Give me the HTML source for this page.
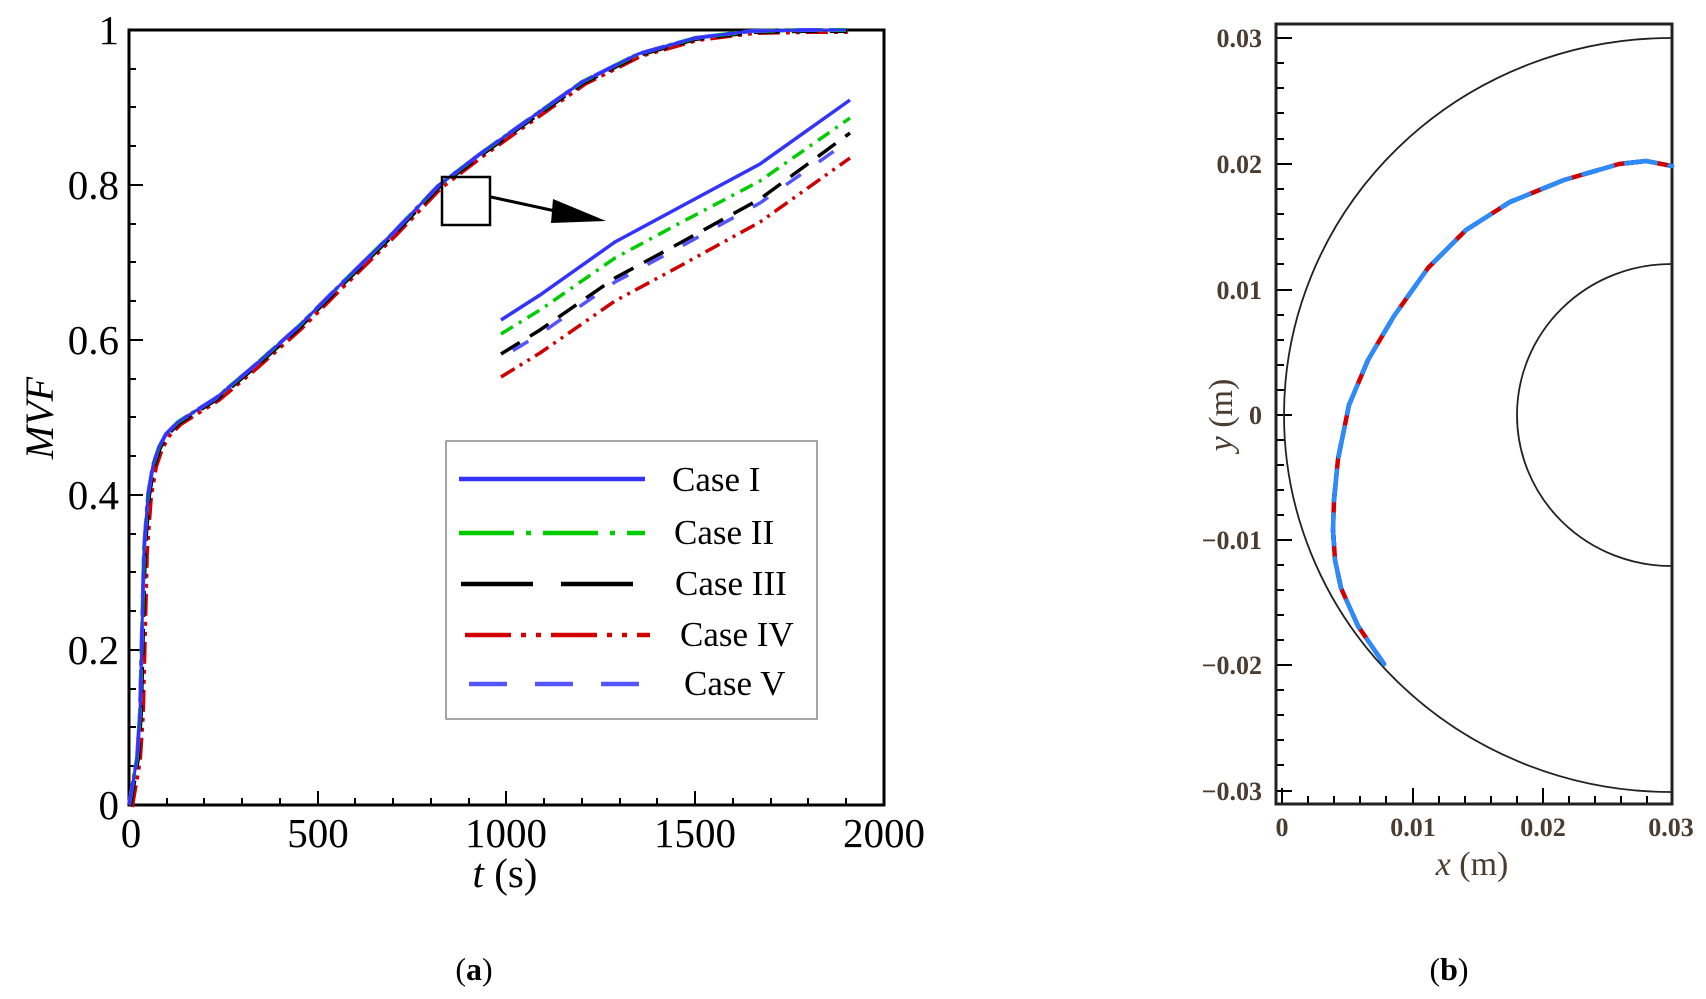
<!DOCTYPE html>
<html><head><meta charset="utf-8"><style>
html,body{margin:0;padding:0;background:#fff;}
svg{display:block;}
text{font-family:"Liberation Serif",serif;}
</style></head><body>
<svg width="1706" height="999" viewBox="0 0 1706 999" xmlns="http://www.w3.org/2000/svg">
<!-- Plot (a) -->
<g stroke="#000" stroke-width="2">
  <path d="M129,805h14M129,650h14M129,495h14M129,340h14M129,185h14M129,30h14"/>
  <path d="M129,766h7M129,727h7M129,689h7M129,611h7M129,572h7M129,534h7M129,456h7M129,417h7M129,379h7M129,301h7M129,262h7M129,224h7M129,146h7M129,107h7M129,69h7"/>
  <path d="M318,805v-14M506,805v-14M695,805v-14"/>
  <path d="M167,805v-7M204,805v-7M242,805v-7M280,805v-7M355,805v-7M393,805v-7M431,805v-7M469,805v-7M544,805v-7M582,805v-7M620,805v-7M657,805v-7M733,805v-7M771,805v-7M808,805v-7M846,805v-7"/>
</g>
<rect x="129" y="30" width="755" height="775" fill="none" stroke="#000" stroke-width="3"/>
<g font-size="41" fill="#000" text-anchor="end">
  <text x="119" y="819">0</text>
  <text x="119" y="664">0.2</text>
  <text x="119" y="509">0.4</text>
  <text x="119" y="354">0.6</text>
  <text x="119" y="199">0.8</text>
  <text x="119" y="44">1</text>
</g>
<g font-size="41" fill="#000" text-anchor="middle">
  <text x="131" y="847">0</text>
  <text x="318" y="847">500</text>
  <text x="506" y="847">1000</text>
  <text x="695" y="847">1500</text>
  <text x="884" y="847">2000</text>
  <text x="505" y="887"><tspan font-style="italic">t</tspan> (s)</text>
  <text x="474" y="980" font-size="32">(<tspan font-weight="bold">a</tspan>)</text>
  <text x="1449" y="980" font-size="32">(<tspan font-weight="bold">b</tspan>)</text>
</g>
<text transform="translate(53,418) rotate(-90)" font-size="40" font-style="italic" text-anchor="middle">MVF</text>

<defs>
<path id="mvf" d="M129,805 L133,782 L137,758 L140,712 L144,549 L148,495 L153,465 L159,447 L166,434 L178,422 L216,398 L254,366 L299,326 L337,288 L393,233 L438,186 L480,154 L525,122 L582,82 L638,54 L695,38 L752,31 L808,30 L846,30"/>
</defs>
<g fill="none" stroke-width="4" stroke-linejoin="round">
  <use href="#mvf" stroke="#d00000" stroke-dasharray="22,6,4,6,4,6" transform="translate(3,2)"/>
  <use href="#mvf" stroke="#000" stroke-dasharray="26,12" transform="translate(1,1)"/>
  <use href="#mvf" stroke="#00cc00" stroke-dasharray="22,6,4,6"/>
  <use href="#mvf" stroke="#5555ff" stroke-dasharray="24,12,4,12"/>
  <use href="#mvf" stroke="#3333ff" stroke-width="3"/>
</g>
<g fill="none" stroke-width="3.5">
  <path d="M501,320 L540,295 L615,242 L680,207 L760,164 L850,100" stroke="#3333ff"/>
  <path d="M501,334 L540,310 L615,258 L680,223 L760,181 L850,118" stroke="#00cc00" stroke-dasharray="14,7,3,7"/>
  <path d="M501,354 L540,330 L615,278 L680,243 L760,199 L850,133" stroke="#000" stroke-dasharray="22,12"/>
  <path d="M501,358 L540,334 L615,282 L680,247 L760,203 L850,140" stroke="#5555ff" stroke-dasharray="18,22" stroke-dashoffset="-14"/>
  <path d="M501,377 L540,353 L615,301 L680,266 L760,222 L850,158" stroke="#d00000" stroke-dasharray="16,6,3,6,3,6"/>
</g>
<rect x="442" y="177" width="48" height="48" fill="none" stroke="#000" stroke-width="2.5"/>
<path d="M491,197 L560,212" stroke="#000" stroke-width="3"/>
<path d="M553,199 L606,221 L551,223 Z" fill="#000"/>
<rect x="446" y="441" width="371" height="278" fill="#fff" stroke="#888" stroke-width="1.5"/>
<g fill="none" stroke-width="4.5">
  <path d="M459,479h186" stroke="#3333ff"/>
  <path d="M459,533h186" stroke="#00cc00" stroke-dasharray="55,12,5,12"/>
  <path d="M461,584h184" stroke="#000" stroke-dasharray="72,28"/>
  <path d="M465,635h185" stroke="#d00000" stroke-dasharray="46,10,5,10,5,10"/>
  <path d="M469,684h185" stroke="#5555ff" stroke-dasharray="38,28"/>
</g>
<g font-size="35" fill="#000">
  <text x="672" y="491">Case I</text>
  <text x="674" y="544">Case II</text>
  <text x="675" y="595">Case III</text>
  <text x="680" y="646">Case IV</text>
  <text x="684" y="695">Case V</text>
</g>

<!-- Plot (b) -->
<g stroke="#000" stroke-width="2">
  <path d="M1276,38h16M1276,164h16M1276,290h16M1276,415h16M1276,540h16M1276,665h16M1276,791h16"/>
  <path d="M1276,63h8M1276,88h8M1276,113h8M1276,139h8M1276,189h8M1276,214h8M1276,239h8M1276,264h8M1276,315h8M1276,340h8M1276,365h8M1276,390h8M1276,440h8M1276,465h8M1276,490h8M1276,515h8M1276,565h8M1276,590h8M1276,615h8M1276,640h8M1276,690h8M1276,715h8M1276,740h8M1276,765h8"/>
  <path d="M1282,804v-16M1413,804v-16M1543,804v-16"/>
  <path d="M1308,804v-8M1334,804v-8M1360,804v-8M1386,804v-8M1439,804v-8M1465,804v-8M1491,804v-8M1517,804v-8M1569,804v-8M1595,804v-8M1621,804v-8M1647,804v-8"/>
</g>
<rect x="1276" y="24" width="396" height="780" fill="none" stroke="#222" stroke-width="3"/>
<g font-size="26" fill="#4a3c30" font-weight="bold" text-anchor="end">
  <text x="1262" y="47">0.03</text>
  <text x="1262" y="173">0.02</text>
  <text x="1262" y="299">0.01</text>
  <text x="1262" y="424">0</text>
  <text x="1262" y="549">−0.01</text>
  <text x="1262" y="674">−0.02</text>
  <text x="1262" y="800">−0.03</text>
</g>
<g font-size="26" fill="#4a3c30" font-weight="bold" text-anchor="middle">
  <text x="1282" y="836">0</text>
  <text x="1413" y="836">0.01</text>
  <text x="1543" y="836">0.02</text>
  <text x="1671" y="836">0.03</text>
  <text x="1472" y="875" font-size="34" font-weight="normal"><tspan font-style="italic">x</tspan> (m)</text>
</g>
<text transform="translate(1232,415) rotate(-90)" font-size="34" fill="#4a3c30" text-anchor="middle"><tspan font-style="italic">y</tspan> (m)</text>
<g fill="none" stroke="#222" stroke-width="1.8">
  <path d="M1671,38 A387,377 0 0 0 1671,792"/>
  <path d="M1671,264 A154,151 0 0 0 1671,566"/>
</g>
<g fill="none" stroke-width="4.5" stroke-linejoin="round" stroke-linecap="round">
  <path d="M1384,664 L1358,626 L1341,588 L1335,560 L1333,530 L1334,500 L1338,459 L1349,405 L1368,360 L1394,316 L1428,268 L1466,230 L1510,202 L1564,180 L1619,164 L1646,161 L1672,166" stroke="#d00000"/>
  <path d="M1384,664 L1358,626 L1341,588 L1335,560 L1333,530 L1334,500 L1338,459 L1349,405 L1368,360 L1394,316 L1428,268 L1466,230 L1510,202 L1564,180 L1619,164 L1646,161 L1672,166" stroke="#000" stroke-dasharray="14,30"/>
  <path d="M1384,664 L1358,626 L1341,588 L1335,560 L1333,530 L1334,500 L1338,459 L1349,405 L1368,360 L1394,316 L1428,268 L1466,230 L1510,202 L1564,180 L1619,164 L1646,161 L1672,166" stroke="#2a8cff" stroke-dasharray="30,14"/>
</g>
</svg>
</body></html>
